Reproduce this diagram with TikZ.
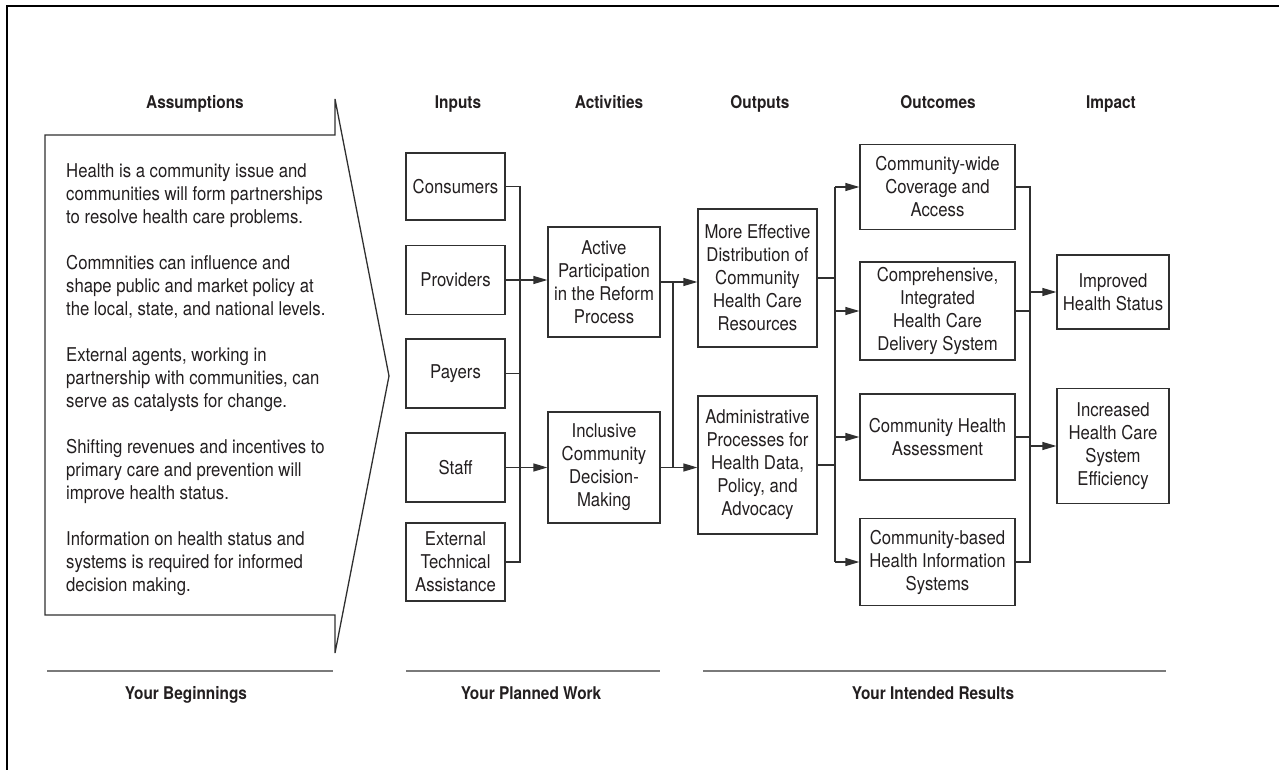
\documentclass[tikz,border=0pt]{standalone}
\usepackage{fontspec}
\setmainfont{TeX Gyre Heros}[FakeStretch=0.88]
\usetikzlibrary{arrows.meta}
\definecolor{txt}{HTML}{231F20}
\definecolor{linec}{HTML}{303030}
\definecolor{rulec}{HTML}{7A7A7A}
\tikzset{
  box/.style={draw=linec, line width=1.3pt, align=center, inner sep=1pt,
    font=\fontsize{19}{23}\selectfont, text=txt},
  head/.style={anchor=base, inner sep=0pt, font=\fontsize{17.5}{21}\selectfont\bfseries, text=txt},
  conn/.style={draw=linec, line width=1.3pt},
  arr/.style={conn, -{Triangle[length=14pt,width=8pt]}},
  rulebar/.style={draw=rulec, line width=2.6pt}
}
\begin{document}
\begin{tikzpicture}[x=1pt,y=-1pt]
\useasboundingbox (0,0) rectangle (1279,770);
% frame
\draw[line width=2.4pt, black] (7,770) -- (7,6) -- (1279,6);

% headers
\node[head] (hA) at (195,108.5) {Assumptions};
\node[head] (hI) at (458,108.5) {Inputs};
\node[head] (hAc) at (609,108.5) {Activities};
\node[head] (hO) at (760,108.5) {Outputs};
\node[head] (hOc) at (938,108.5) {Outcomes};
\node[head] (hIm) at (1111,108.5) {Impact};

% assumptions arrow shape
\draw[conn] (45,135) -- (335,135) -- (335,99) -- (389,376) -- (335,653) -- (335,615) -- (45,615) -- cycle;
\node[anchor=north west, inner sep=0pt, align=left, text=txt,
      font=\fontsize{19}{23}\selectfont] (asm) at (66,163)
{Health is a community issue and\\
communities will form partnerships\\
to resolve health care problems.\\[23pt]
Commnities can influence and\\
shape public and market policy at\\
the local, state, and national levels.\\[23pt]
External agents, working in\\
partnership with communities, can\\
serve as catalysts for change.\\[23pt]
Shifting revenues and incentives to\\
primary care and prevention will\\
improve health status.\\[23pt]
Information on health status and\\
systems is required for informed\\
decision making.};

% inputs
\node[box, minimum width=99pt, minimum height=67pt] (cons) at (455.5,186.5) {Consumers};
\node[box, minimum width=99pt, minimum height=69pt] (prov) at (455.5,280) {Providers};
\node[box, minimum width=99pt, minimum height=69pt] (pay) at (455.5,373.5) {Payers};
\node[box, minimum width=99pt, minimum height=69pt] (staff) at (455.5,467.5) {Staff};
\node[box, minimum width=99pt, minimum height=78pt] (ext) at (455.5,562) {External\\Technical\\Assistance};

% activities
\node[box, minimum width=112pt, minimum height=110pt] (act) at (604,282) {Active\\Participation\\in the Reform\\Process};
\node[box, minimum width=112pt, minimum height=111pt] (inc) at (604,467.5) {Inclusive\\Community\\Decision-\\Making};

% outputs
\node[box, minimum width=119pt, minimum height=138pt] (eff) at (757.5,278) {More Effective\\Distribution of\\Community\\Health Care\\Resources};
\node[box, minimum width=119pt, minimum height=138pt] (adm) at (757.5,465) {Administrative\\Processes for\\Health Data,\\Policy, and\\Advocacy};

% outcomes
\node[box, minimum width=155pt, minimum height=85pt] (cwide) at (937.5,187) {Community-wide\\Coverage and\\Access};
\node[box, minimum width=155pt, minimum height=98pt] (comp) at (937.5,311) {Comprehensive,\\Integrated\\Health Care\\Delivery System};
\node[box, minimum width=155pt, minimum height=86pt] (assess) at (937.5,437) {Community Health\\Assessment};
\node[box, minimum width=155pt, minimum height=87pt] (cbased) at (937.5,562) {Community-based\\Health Information\\Systems};

% impact
\node[box, minimum width=112pt, minimum height=74pt] (imp) at (1113,292) {Improved\\Health Status};
\node[box, minimum width=112pt, minimum height=115pt] (incr) at (1113,446) {Increased\\Health Care\\System\\Efficiency};

% inputs -> activities
\coordinate (b1) at (520,0);
\draw[conn] (cons.east) -- (cons.east -| b1) -- (ext.east -| b1) -- (ext.east);
\draw[conn] (pay.east) -- (pay.east -| b1);
\draw[arr] (prov.east) -- (prov.east -| act.west);
\draw[arr] (staff.east) -- (staff.east -| inc.west);

% activities -> outputs
\coordinate (b2) at (673,0);
\draw[conn] (act.east) -- (act.east -| b2) -- (inc.east -| b2);
\draw[arr] (act.east) -- (act.east -| eff.west);
\draw[arr] (inc.east) -- (inc.east -| adm.west);

% outputs -> outcomes
\coordinate (b3) at (835,0);
\draw[conn] (cwide.west -| b3) -- (cbased.west -| b3);
\draw[conn] (eff.east) -- (eff.east -| b3);
\draw[conn] (adm.east) -- (adm.east -| b3);
\draw[arr] (cwide.west -| b3) -- (cwide.west);
\draw[arr] (comp.west -| b3) -- (comp.west);
\draw[arr] (assess.west -| b3) -- (assess.west);
\draw[arr] (cbased.west -| b3) -- (cbased.west);

% outcomes -> impact
\coordinate (b4) at (1030,0);
\draw[conn] (cwide.east) -- (cwide.east -| b4) -- (cbased.east -| b4) -- (cbased.east);
\draw[conn] (comp.east) -- (comp.east -| b4);
\draw[conn] (assess.east) -- (assess.east -| b4);
\draw[arr] (imp.west -| b4) -- (imp.west);
\draw[arr] (incr.west -| b4) -- (incr.west);

% bottom rules and labels
\draw[rulebar] (47,671) -- (333,671);
\draw[rulebar] (406,671) -- (660,671);
\draw[rulebar] (703,671) -- (1166,671);
\node[head] (yb) at (186,699.5) {Your Beginnings};
\node[head] (yp) at (531,699.5) {Your Planned Work};
\node[head] (yr) at (933,699.5) {Your Intended Results};
\end{tikzpicture}
\end{document}
